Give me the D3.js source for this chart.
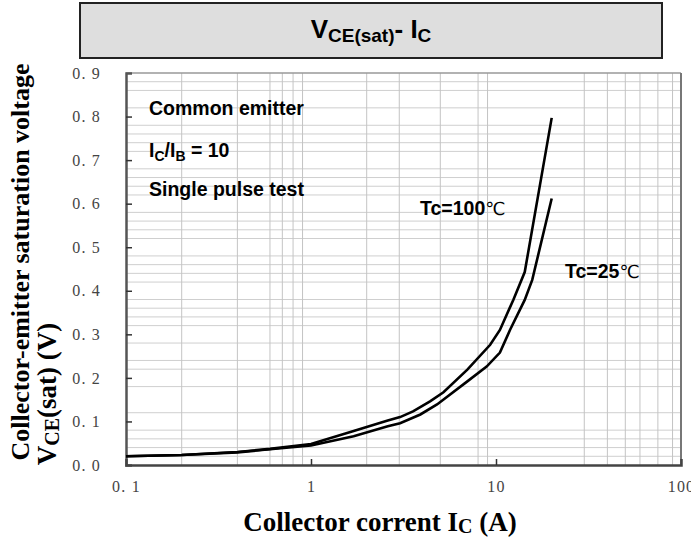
<!DOCTYPE html>
<html>
<head>
<meta charset="utf-8">
<script src="https://cdn.jsdelivr.net/npm/d3@7"></script>
<style>
  body { margin: 0; background: #fff; }
  svg { display: block; }
  .serif { font-family: "Liberation Serif", "DejaVu Serif", serif; }
  .sans { font-family: "Liberation Sans", Arial, sans-serif; }
</style>
</head>
<body>
<svg id="chart" width="691" height="543"></svg>
<script>
// values
const xTicks = [0.1, 1, 10, 100];
const yTicks = [0, 0.1, 0.2, 0.3, 0.4, 0.5, 0.6, 0.7, 0.8, 0.9];
const xGrid = [0.2, 0.4, 0.6, 0.7, 0.8, 0.9, 2, 3, 5, 8, 9, 30, 40, 50, 60, 75, 90];
const yGrid = [0.02, 0.04, 0.06, 0.08, 0.12, 0.18, 0.22, 0.24, 0.28, 0.32, 0.34, 0.36, 0.38,
               0.42, 0.44, 0.46, 0.48, 0.52, 0.54, 0.56, 0.58, 0.62, 0.64, 0.66, 0.68,
               0.72, 0.74, 0.76, 0.78, 0.82, 0.86, 0.88];

const ic100 = [0.1, 0.2, 0.4, 0.6, 1, 1.7, 2.6, 3.03, 3.56, 4.4, 5.2, 7.0, 9.3, 10.5, 12.4, 14.3, 20];
const vce100 = [0.020, 0.023, 0.030, 0.037, 0.048, 0.078, 0.102, 0.110, 0.123, 0.146, 0.167, 0.219, 0.276, 0.310, 0.379, 0.443, 0.797];
const ic25 = [0.1, 0.2, 0.4, 0.6, 1, 1.7, 2.6, 3.03, 3.9, 4.8, 7.0, 8.9, 10.5, 11.9, 14.3, 15.7, 20];
const vce25 = [0.020, 0.023, 0.029, 0.036, 0.045, 0.066, 0.089, 0.096, 0.116, 0.139, 0.192, 0.226, 0.258, 0.310, 0.379, 0.425, 0.612];

const svg = d3.select("#chart");

const plotLeft = 126, plotRight = 681, plotTop = 73, plotBottom = 465;

const x = d3.scaleLog().domain([0.1, 100]).range([plotLeft, plotRight]);
const y = d3.scaleLinear().domain([0, 0.9]).range([plotBottom, plotTop]);

// title box
svg.append("rect")
    .attr("x", 80).attr("y", 3)
    .attr("width", 582).attr("height", 55)
    .attr("fill", "#dedede")
    .attr("stroke", "#222")
    .attr("stroke-width", 2);

let title = svg.append("text")
    .attr("class", "sans")
    .attr("x", 371).attr("y", 38)
    .attr("text-anchor", "middle")
    .attr("font-weight", "bold")
    .attr("font-size", 26)
    .attr("fill", "#000");
title.append("tspan").text("V");
title.append("tspan").attr("font-size", 19).attr("dy", 4).text("CE(sat)");
title.append("tspan").attr("dy", -4).text("- I");
title.append("tspan").attr("font-size", 19).attr("dy", 4).text("C");

// grid
svg.append("g")
    .selectAll("line")
    .data(yGrid)
    .enter()
    .append("line")
    .attr("x1", plotLeft).attr("x2", plotRight)
    .attr("y1", d => y(d)).attr("y2", d => y(d))
    .attr("stroke", "#cfcfcf")
    .attr("stroke-width", 1);

svg.append("g")
    .selectAll("line")
    .data(xGrid)
    .enter()
    .append("line")
    .attr("x1", d => x(d)).attr("x2", d => x(d))
    .attr("y1", plotTop).attr("y2", plotBottom)
    .attr("stroke", "#c4c4c4")
    .attr("stroke-width", 1);

// frame
svg.append("line")
    .attr("x1", plotLeft).attr("x2", plotRight).attr("y1", plotTop).attr("y2", plotTop)
    .attr("stroke", "#999").attr("stroke-width", 1.5);
svg.append("line")
    .attr("x1", plotRight).attr("x2", plotRight).attr("y1", plotTop).attr("y2", plotBottom)
    .attr("stroke", "#777").attr("stroke-width", 2);

// y axis labels and inner ticks
let yLabels = svg.append("g")
    .attr("transform", `translate(${plotLeft - 22}, 0)`)
    .call(d3.axisLeft(y).tickValues(yTicks).tickSize(0).tickFormat(d => d3.format(".1f")(d).replace(".", ". ")));
yLabels.select(".domain").remove();
yLabels.selectAll("text")
    .attr("class", "serif")
    .attr("font-size", 16)
    .attr("letter-spacing", 1.2)
    .attr("fill", "#444");

let yInner = svg.append("g")
    .attr("transform", `translate(${plotLeft}, 0)`)
    .call(d3.axisRight(y).tickValues(yTicks.slice(1, -1)).tickSize(6).tickFormat(""));
yInner.select(".domain").attr("stroke", "#555").attr("stroke-width", 2.5);
yInner.selectAll(".tick line").attr("stroke", "#333").attr("stroke-width", 1.5);

// x axis labels and inner ticks
let xLabels = svg.append("g")
    .attr("transform", `translate(0, ${plotBottom + 13})`)
    .call(d3.axisBottom(x).tickValues(xTicks).tickSize(0).tickFormat(d => d < 1 ? "0. 1" : d3.format("d")(d)));
xLabels.select(".domain").remove();
xLabels.selectAll("text")
    .attr("class", "serif")
    .attr("font-size", 16)
    .attr("letter-spacing", 1.2)
    .attr("fill", "#444");

let xInner = svg.append("g")
    .attr("transform", `translate(0, ${plotBottom})`)
    .call(d3.axisTop(x).tickValues([1, 10]).tickSize(6).tickFormat(""));
xInner.select(".domain").attr("stroke", "#444").attr("stroke-width", 2.5);
xInner.selectAll(".tick line").attr("stroke", "#333").attr("stroke-width", 1.5);

// curves
const line = d3.line()
    .x(d => x(d[0]))
    .y(d => y(d[1]));

svg.append("path")
    .datum(d3.zip(ic25, vce25))
    .attr("d", line)
    .attr("fill", "none")
    .attr("stroke", "#000")
    .attr("stroke-width", 2.6);

svg.append("path")
    .datum(d3.zip(ic100, vce100))
    .attr("d", line)
    .attr("fill", "none")
    .attr("stroke", "#000")
    .attr("stroke-width", 2.6);

// annotations
function note(px, py, parts) {
    let t = svg.append("text")
        .attr("class", "sans")
        .attr("x", px).attr("y", py)
        .attr("font-size", 19.5)
        .attr("font-weight", "bold")
        .attr("fill", "#000");
    for (let p of parts) {
        let s = t.append("tspan").text(p.t);
        if (p.sub) s.attr("font-size", 14).attr("dy", 4);
        if (p.up) s.attr("dy", -4);
        if (p.thin) s.attr("font-weight", "normal").attr("font-family", "'DejaVu Sans', sans-serif").attr("font-size", 18);
    }
}
note(149, 115, [{t: "Common emitter"}]);
note(149, 157, [{t: "I"}, {t: "C", sub: true}, {t: "/I", up: true}, {t: "B", sub: true}, {t: " = 10", up: true}]);
note(149, 196, [{t: "Single pulse test"}]);
note(420, 215, [{t: "Tc=100"}, {t: "℃", thin: true}]);
note(565, 278, [{t: "Tc=25"}, {t: "℃", thin: true}]);

// axis titles
let xt = svg.append("text")
    .attr("class", "serif")
    .attr("x", 380).attr("y", 531)
    .attr("text-anchor", "middle")
    .attr("font-size", 27)
    .attr("font-weight", "bold");
xt.append("tspan").text("Collector corrent I");
xt.append("tspan").attr("font-size", 20).attr("dy", 2).text("C");
xt.append("tspan").attr("dy", -2).text(" (A)");

svg.append("text")
    .attr("class", "serif")
    .attr("transform", "translate(29, 262) rotate(-90)")
    .attr("text-anchor", "middle")
    .attr("font-size", 26)
    .attr("font-weight", "bold")
    .text("Collector-emitter saturation voltage");

let yt = svg.append("text")
    .attr("class", "serif")
    .attr("transform", "translate(56, 394) rotate(-90)")
    .attr("text-anchor", "middle")
    .attr("font-size", 27)
    .attr("font-weight", "bold");
yt.append("tspan").text("V");
yt.append("tspan").attr("font-size", 20).attr("dy", 3).text("CE");
yt.append("tspan").attr("dy", -3).text("(sat) (V)");
</script>
</body>
</html>
